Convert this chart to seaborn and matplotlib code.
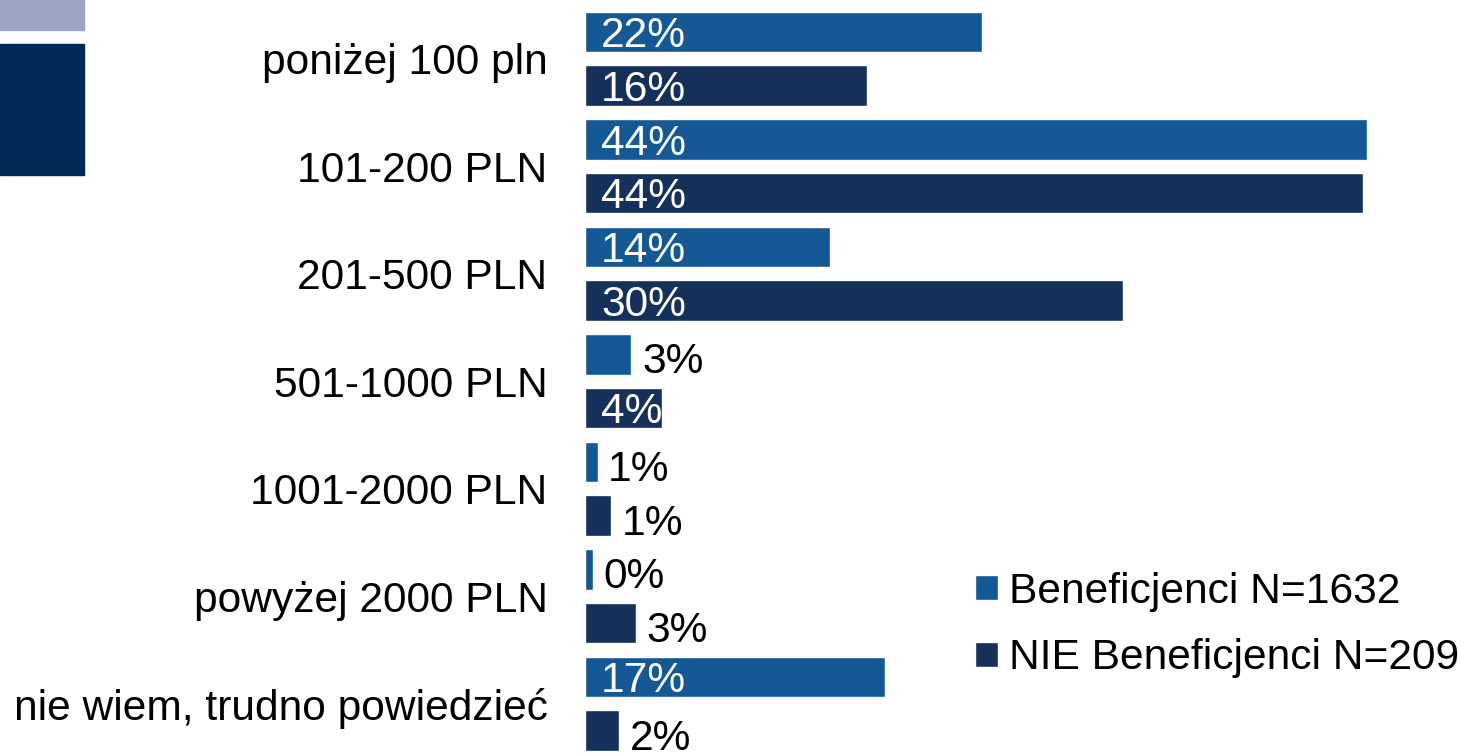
import pandas as pd
import matplotlib.pyplot as plt
import matplotlib.patches as mpatches
import seaborn as sns

# data (percent)
categories = ['poniżej 100 pln', '101-200 PLN', '201-500 PLN', '501-1000 PLN',
              '1001-2000 PLN', 'powyżej 2000 PLN', 'nie wiem, trudno powiedzieć']
series = ['Beneficjenci N=1632', 'NIE Beneficjenci N=209']
benef = [22.2, 43.8, 13.7, 2.6, 0.7, 0.45, 16.8]
nie_benef = [15.8, 43.55, 30.1, 4.3, 1.45, 2.85, 1.9]
colors = ['#155896', '#15305A']

df = pd.DataFrame({
    'kategoria': categories * 2,
    'grupa': [series[0]] * len(categories) + [series[1]] * len(categories),
    'wartosc': benef + nie_benef,
})

sns.set_style('white')
plt.rcParams['font.family'] = ['Liberation Sans', 'DejaVu Sans']
plt.rcParams['text.color'] = 'black'
FS = 30.6

fig = plt.figure(figsize=(14.61, 7.53), dpi=100)
W, H = 1461, 753
ax = fig.add_axes([585 / W, -4.5 / H, 895 / W, 752.5 / H])

sns.barplot(data=df, y='kategoria', x='wartosc', hue='grupa', orient='h',
            palette=dict(zip(series, colors)), width=1.0, gap=0.25,
            saturation=1, ax=ax, legend=True)

ax.set_xlim(0, 50.1)
ax.set_ylim(6.5, -0.5)
ax.set_xlabel('')
ax.set_ylabel('')
ax.set_xticks([])
ax.tick_params(axis='y', length=0, pad=27, labelsize=FS, labelcolor='black')
for s in ax.spines.values():
    s.set_visible(False)

# value labels: white inside for big bars, black outside for small ones
# (baseline placed so the digits sit centred on the bar)
half_cap = 0.141
for cont, vals in zip(ax.containers, [benef, nie_benef]):
    for bar, v in zip(cont, vals):
        y = bar.get_y() + bar.get_height() / 2 + half_cap
        txt = f'{v:.0f}%'
        if v >= 4:
            ax.text(0.9, y, txt, color='white', ha='left', va='baseline',
                    fontsize=FS)
        else:
            ax.text(v + 0.6, y + 0.035, txt, color='black', ha='left',
                    va='baseline', fontsize=FS)

handles, labels = ax.get_legend_handles_labels()
ax.get_legend().remove()
fig.legend(handles, labels, loc='center left',
           bbox_to_anchor=(975 / W, 1 - 625 / H), frameon=False,
           fontsize=FS, handlelength=0.55, handleheight=0.55,
           handletextpad=0.25, labelspacing=0.63, borderpad=0,
           borderaxespad=0, labelcolor='black')

# decorative blocks in the top-left corner
fig.patches.append(mpatches.Rectangle((0, 1 - 30 / H), 84 / W, 30 / H,
                                      transform=fig.transFigure,
                                      color='#9BA6C2', zorder=0))
fig.patches.append(mpatches.Rectangle((0, 1 - 175 / H), 84 / W, 131 / H,
                                      transform=fig.transFigure,
                                      color='#002855', zorder=0))

fig.savefig('out.png', dpi=100)
